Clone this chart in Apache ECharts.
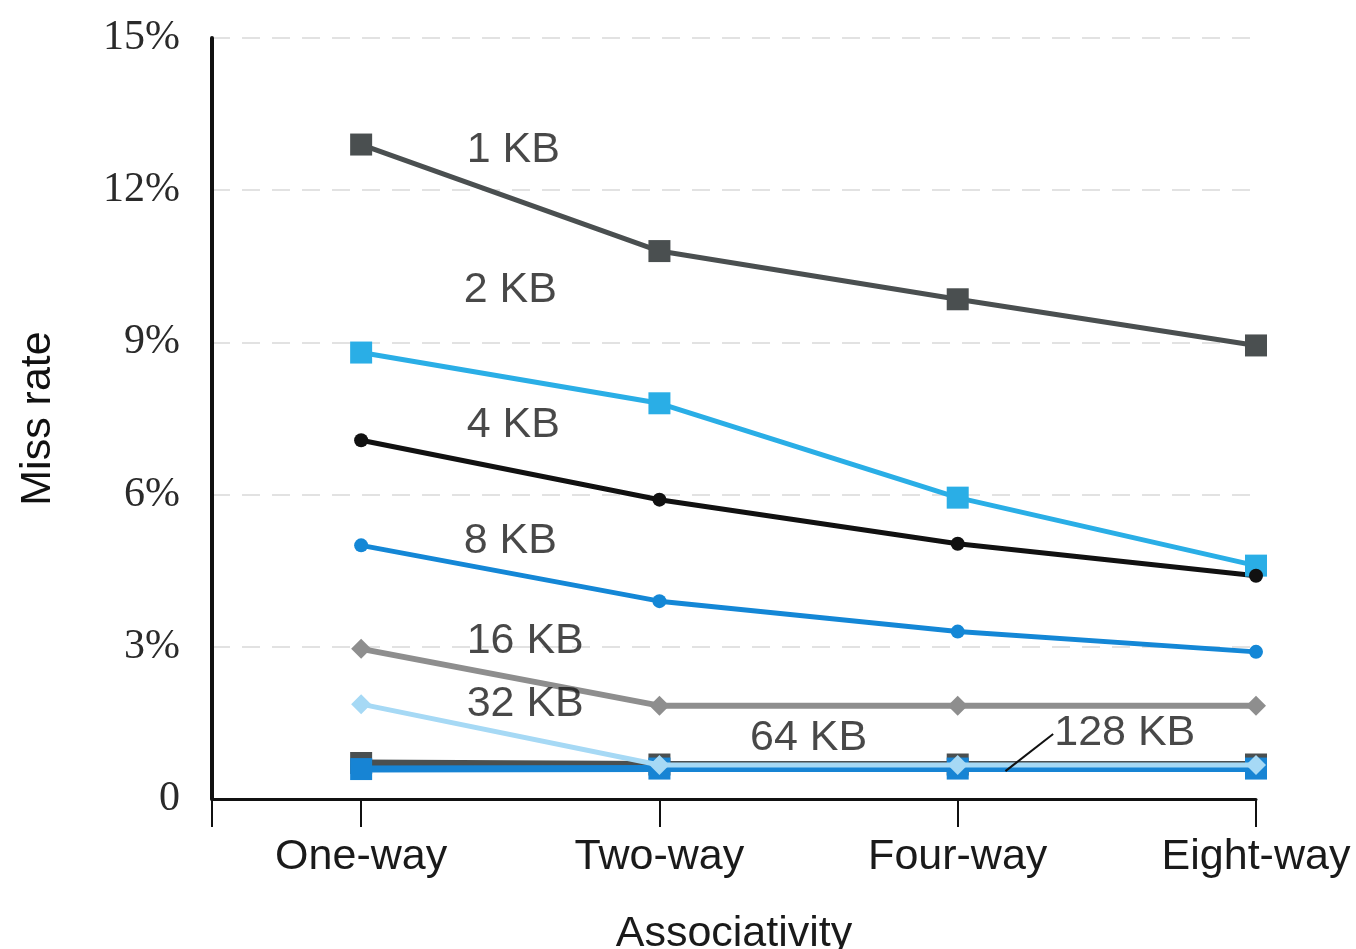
<!DOCTYPE html>
<html>
<head>
<meta charset="utf-8">
<script src="https://cdn.jsdelivr.net/npm/echarts@6/dist/echarts.min.js"></script>
<style>html,body{margin:0;padding:0;background:#fff}#c{width:1356px;height:949px}</style>
</head>
<body>
<div id="c"></div>
<script>
// ---- data ----
const categories = ['One-way', 'Two-way', 'Four-way', 'Eight-way'];
const yTicks = [0, 3, 6, 9, 12, 15];
const kb1   = [12.9, 10.8, 9.85, 8.94];
const kb2   = [8.8, 7.8, 5.94, 4.6];
const kb4   = [7.07, 5.9, 5.03, 4.4];
const kb8   = [5.0, 3.9, 3.3, 2.9];
const kb16  = [2.96, 1.84, 1.84, 1.84];
const kb32  = [1.87, 0.67, 0.67, 0.67];
const kb64  = [0.71, 0.68, 0.68, 0.68];
const kb128 = [0.59, 0.60, 0.60, 0.60];
const labelNames = ['1 KB', '2 KB', '4 KB', '8 KB', '16 KB', '32 KB', '64 KB', '128 KB'];
const labelX = [0.51, 0.50, 0.51, 0.50, 0.55, 0.55, 1.50, 2.56];
const labelY = [12.79, 10.03, 7.36, 5.09, 3.12, 1.87, 1.20, 1.30];
const leaderX = [2.32, 2.16];
const leaderY = [1.28, 0.55];

const pts = arr => arr.map((v, i) => [i, v]);
const SANS = "'Liberation Sans', Arial, sans-serif";
const SERIF = "'Liberation Serif', 'Times New Roman', serif";

function lineSeries(name, data, color, symbol, size, width, z) {
  return {
    name, type: 'line', data: pts(data), symbol, symbolSize: size,
    lineStyle: { color, width }, itemStyle: { color }, z: z || 2,
    animation: false
  };
}

const chart = echarts.init(document.getElementById('c'));
chart.setOption({
  animation: false,
  backgroundColor: '#fff',
  grid: { left: 212, right: 100, top: 38, bottom: 150, containLabel: false, outerBoundsMode: 'none' },
  xAxis: {
    type: 'value', min: -0.5, max: 3,
    name: 'Associativity', nameLocation: 'middle', nameGap: 114,
    nameTextStyle: { fontFamily: SANS, fontSize: 43, color: '#1a1a1a' },
    axisLine: { show: true, onZero: false, lineStyle: { color: '#111', width: 3 } },
    axisTick: { show: true, customValues: [-0.5, 0, 1, 2, 3], length: 28, lineStyle: { color: '#111', width: 2 } },
    axisLabel: { customValues: [0, 1, 2, 3], margin: 37, fontFamily: SANS, fontSize: 43, color: '#1a1a1a',
      formatter: v => categories[Math.round(v)] || '' },
    splitLine: { show: false }
  },
  yAxis: {
    type: 'value', min: 0, max: 15, interval: 3,
    name: 'Miss rate', nameLocation: 'middle', nameGap: 152, nameRotate: 90,
    nameTextStyle: { fontFamily: SANS, fontSize: 43, color: '#111' },
    axisLine: { show: true, onZero: false, lineStyle: { color: '#111', width: 4 } },
    axisTick: { show: false },
    axisLabel: { margin: 32, fontFamily: SERIF, fontSize: 42, color: '#2a2a2a',
      formatter: v => (v === 0 ? '0' : v + '%') },
    splitLine: { show: true, lineStyle: { color: '#e2e2e2', type: [18, 12], width: 2 } }
  },
  series: [
    lineSeries('1 KB', kb1, '#4a4f50', 'rect', 22, 5, 3),
    lineSeries('2 KB', kb2, '#2aaee6', 'rect', 22, 5, 3),
    lineSeries('4 KB', kb4, '#111111', 'circle', 14, 5, 3),
    lineSeries('8 KB', kb8, '#1487d6', 'circle', 14, 5, 3),
    lineSeries('16 KB', kb16, '#8e8e8e', 'diamond', 20, 6, 3),
    lineSeries('64 KB', kb64, '#4a4f50', 'rect', 22, 7, 3),
    lineSeries('128 KB', kb128, '#1784d4', 'rect', 22, 7, 4),
    lineSeries('32 KB', kb32, '#a6d9f5', 'diamond', 20, 5, 5),
    {
      type: 'line', data: leaderX.map((x, i) => [x, leaderY[i]]), symbol: 'none',
      lineStyle: { color: '#111', width: 2 }, z: 6, animation: false
    },
    {
      type: 'scatter', symbolSize: 0, z: 10, animation: false,
      data: labelNames.map((n, i) => ({ name: n, value: [labelX[i], labelY[i]] })),
      label: { show: true, position: 'inside', formatter: p => p.name,
        fontFamily: SANS, fontSize: 43, color: '#1a1a1a', align: 'center', verticalAlign: 'middle' }
    }
  ]
});
</script>
</body>
</html>
